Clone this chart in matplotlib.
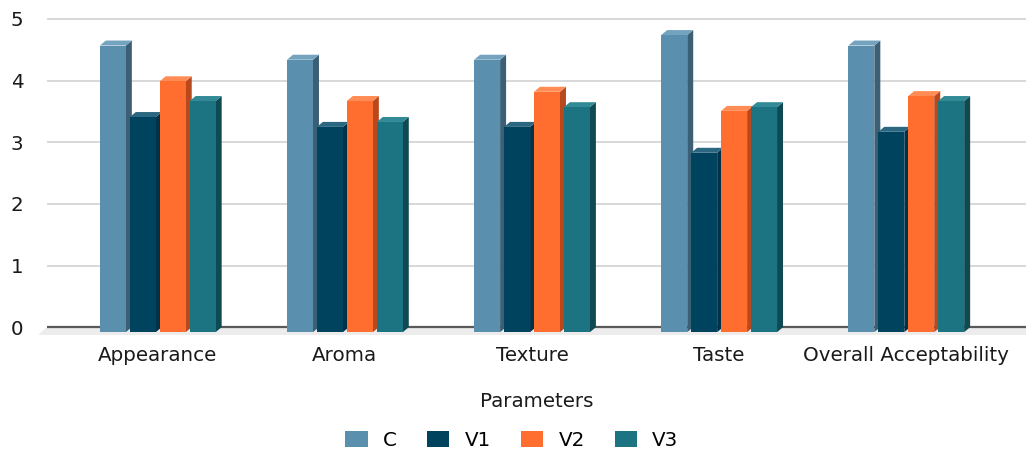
import numpy as np
import matplotlib.pyplot as plt
from matplotlib.patches import Polygon, Patch

categories = ["Appearance", "Aroma", "Texture", "Taste", "Overall Acceptability"]
series_names = ["C", "V1", "V2", "V3"]
C = [4.65, 4.42, 4.42, 4.82, 4.65]
V1 = [3.49, 3.33, 3.33, 2.91, 3.25]
V2 = [4.07, 3.75, 3.90, 3.59, 3.83]
V3 = [3.75, 3.41, 3.65, 3.65, 3.75]

front_cols = ["#5a8fad", "#00435f", "#ff6d2f", "#1c7482"]
side_cols = ["#3b5f74", "#00334a", "#b9491c", "#0f4a53"]
top_cols = ["#74a3bf", "#2b6781", "#ff8c55", "#338a97"]

plt.rcParams["font.family"] = ["DejaVu Sans"]
fs = 14.3

fig = plt.figure(figsize=(10.26, 4.54), dpi=100)
ax = fig.add_axes([0.0458, 0.259, 0.9542, 0.706])

x = np.arange(len(categories))
width = 0.139
step = 0.16
dx = 0.032   # depth shift in x
dy = 0.081   # depth shift in y

# floor
xl, xr = -0.592, 4.64
floor = Polygon([(xl - 0.05, -0.13), (xr, -0.13), (xr, 0), (xl, 0)],
                closed=True, facecolor="#ececec", edgecolor="none",
                zorder=1, clip_on=False)
ax.add_patch(floor)
ax.axhline(0, color="#5a5a5a", lw=1.6, zorder=1.5)

for s, vals in enumerate([C, V1, V2, V3]):
    pos = x + (s - 1.5) * step
    bars = ax.bar(pos, vals, width, bottom=-dy, color=front_cols[s],
                  zorder=3 + s, label=series_names[s])
    for b, v in zip(bars, vals):
        x0 = b.get_x()
        x1 = x0 + b.get_width()
        side = Polygon([(x1, -dy), (x1 + dx, 0), (x1 + dx, v), (x1, v - dy)],
                       closed=True, facecolor=side_cols[s], edgecolor="none",
                       zorder=2.9 + s)
        top = Polygon([(x0, v - dy), (x1, v - dy), (x1 + dx, v), (x0 + dx, v)],
                      closed=True, facecolor=top_cols[s], edgecolor="none",
                      zorder=2.9 + s)
        ax.add_patch(side)
        ax.add_patch(top)

ax.set_xlim(xl, xr)
ax.set_ylim(-0.15, 5.05)
ax.set_yticks([0, 1, 2, 3, 4, 5])
ax.yaxis.grid(True, color="#d6d6d6", lw=1.3, zorder=0)
ax.set_axisbelow(True)
ax.set_xticks(x)
ax.set_xticklabels(categories, fontsize=fs, color="#1a1a1a")
ax.tick_params(axis="y", length=0, pad=17, labelsize=fs, labelcolor="#1a1a1a")
ax.tick_params(axis="x", length=0, pad=7)
for sp in ax.spines.values():
    sp.set_visible(False)

ax.set_xlabel("Parameters", fontsize=fs, color="#1a1a1a", labelpad=19)

handles = [Patch(facecolor=c, edgecolor="none") for c in front_cols]
fig.legend(handles, series_names, loc="center", bbox_to_anchor=(0.499, 0.03),
           ncol=4, frameon=False, fontsize=fs, handlelength=1.13,
           handleheight=0.9, handletextpad=0.77, columnspacing=1.5)

fig.savefig("out.png", dpi=100)
